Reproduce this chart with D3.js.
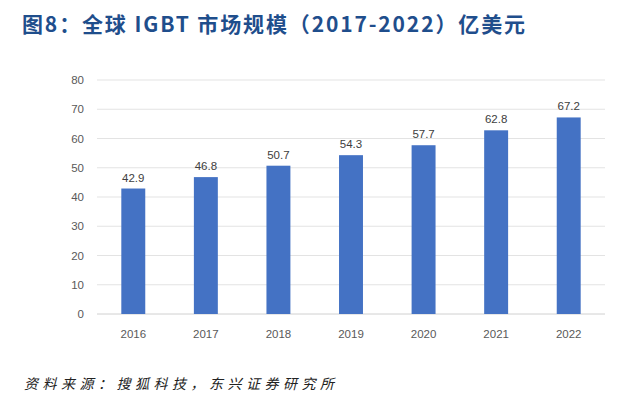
<!DOCTYPE html>
<html><head><meta charset="utf-8">
<script src="https://cdn.jsdelivr.net/npm/d3@7"></script>
<style>body{margin:0;background:#fff}</style>
</head><body><div id="chart"></div>
<script>
var years = ["2016","2017","2018","2019","2020","2021","2022"]
var values = [42.9, 46.8, 50.7, 54.3, 57.7, 62.8, 67.2]
var yTicks = [0,10,20,30,40,50,60,70,80]

var w = 640, h = 419
var svg = d3.select("#chart").append("svg").attr("width", w).attr("height", h)

svg.append("text").attr("x", 22).attr("y", 32)
  .attr("font-family", "Noto Sans CJK SC").attr("font-weight", "bold")
  .attr("font-size", 21).attr("fill", "#1f4e8c")
  .attr("textLength", 503).attr("lengthAdjust", "spacing")
  .text("图8：全球 IGBT 市场规模（2017-2022）亿美元")

var x = d3.scaleBand().domain(years).range([97, 605]).paddingInner(0.67).paddingOuter(0.335)
var y = d3.scaleLinear().domain([0, 80]).range([314, 80])

svg.selectAll(".grid").data(yTicks).enter().append("line")
  .attr("x1", 97).attr("x2", 605)
  .attr("y1", function(d) { return y(d) }).attr("y2", function(d) { return y(d) })
  .attr("stroke", function(d) { return d === 0 ? "#d0d0d0" : "#e3e3e3" }).attr("stroke-width", 1)

svg.selectAll(".yl").data(yTicks).enter().append("text")
  .attr("x", 84).attr("y", function(d) { return y(d) + 4 })
  .attr("text-anchor", "end").attr("font-family", "Liberation Sans")
  .attr("font-size", 11.5).attr("fill", "#595959").text(function(d) { return d })

svg.selectAll(".bar").data(values).enter().append("rect")
  .attr("x", function(d, i) { return x(years[i]) })
  .attr("width", x.bandwidth())
  .attr("y", function(d) { return y(d) })
  .attr("height", function(d) { return y(0) - y(d) })
  .attr("fill", "#4472c4")

svg.selectAll(".vl").data(values).enter().append("text")
  .attr("x", function(d, i) { return x(years[i]) + x.bandwidth() / 2 })
  .attr("y", function(d) { return y(d) - 7 })
  .attr("text-anchor", "middle").attr("font-family", "Liberation Sans")
  .attr("font-size", 11.5).attr("fill", "#404040").text(function(d) { return d.toFixed(1) })

svg.selectAll(".xl").data(years).enter().append("text")
  .attr("x", function(d) { return x(d) + x.bandwidth() / 2 })
  .attr("y", 338).attr("text-anchor", "middle").attr("font-family", "Liberation Sans")
  .attr("font-size", 11.5).attr("fill", "#595959").text(function(d) { return d })

svg.append("text").attr("x", 24).attr("y", 389)
  .attr("font-family", "Noto Sans CJK SC").attr("font-style", "italic")
  .attr("font-size", 14).attr("fill", "#222")
  .attr("textLength", 310).attr("lengthAdjust", "spacing")
  .text("资料来源：搜狐科技，东兴证券研究所")
</script></body></html>
